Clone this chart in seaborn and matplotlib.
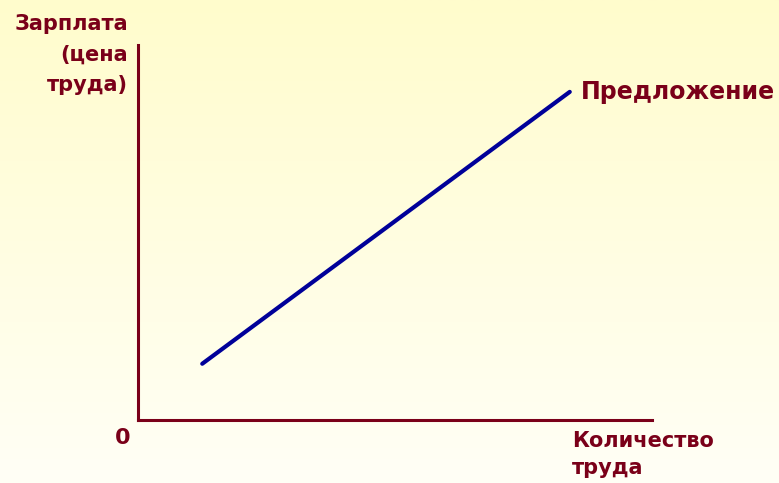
import numpy as np
import pandas as pd
import matplotlib.pyplot as plt
import seaborn as sns

# supply curve of labour
labour = [1.25, 8.4]
wage = [1.5, 8.75]
curve_label = 'Предложение'
y_label = 'Зарплата\n(цена\nтруда)'
x_label = 'Количество\nтруда'
origin_label = '0'

dark_red = '#7a0019'
navy = '#000099'

sns.set_theme(style='white')
plt.rcParams['font.family'] = ['DejaVu Sans']

fig = plt.figure(figsize=(7.79, 4.83), dpi=100)

# pale yellow gradient background
bg = fig.add_axes([0, 0, 1, 1], zorder=0)
grad = np.linspace(0, 1, 256).reshape(-1, 1)
top = np.array([255, 252, 204]) / 255
bottom = np.array([255, 255, 246]) / 255
img = top + (bottom - top) * grad[:, :, None]
bg.imshow(img, aspect='auto', extent=[0, 1, 0, 1])
bg.axis('off')

ax = fig.add_axes([138 / 779, 63 / 483, 514 / 779, 375 / 483], zorder=1)
ax.patch.set_alpha(0)
df = pd.DataFrame({'labour': labour, 'wage': wage})
sns.lineplot(data=df, x='labour', y='wage', ax=ax, color=navy, linewidth=3)
ax.set_xlim(0, 10)
ax.set_ylim(0, 10)
ax.set_xticks([])
ax.set_yticks([])
ax.set_xlabel('')
ax.set_ylabel('')
sns.despine(ax=ax)
for side in ['left', 'bottom']:
    ax.spines[side].set_color(dark_red)
    ax.spines[side].set_linewidth(2.2)

ax.annotate(curve_label, xy=(labour[-1], wage[-1]), xytext=(8, 0),
            textcoords='offset points', ha='left', va='center',
            fontsize=17, fontweight='bold', color=dark_red)

fig.text(128 / 779, 1 - 14 / 483, y_label, ha='right', va='top', fontsize=15,
         fontweight='bold', color=dark_red, linespacing=1.65)
fig.text(130 / 779, 1 - 438 / 483, origin_label, ha='right', va='center',
         fontsize=16, fontweight='bold', color=dark_red)
fig.text(572 / 779, 1 - 431 / 483, x_label, ha='left', va='top', fontsize=15,
         fontweight='bold', color=dark_red, linespacing=1.45)

fig.savefig('out.png', dpi=100)
